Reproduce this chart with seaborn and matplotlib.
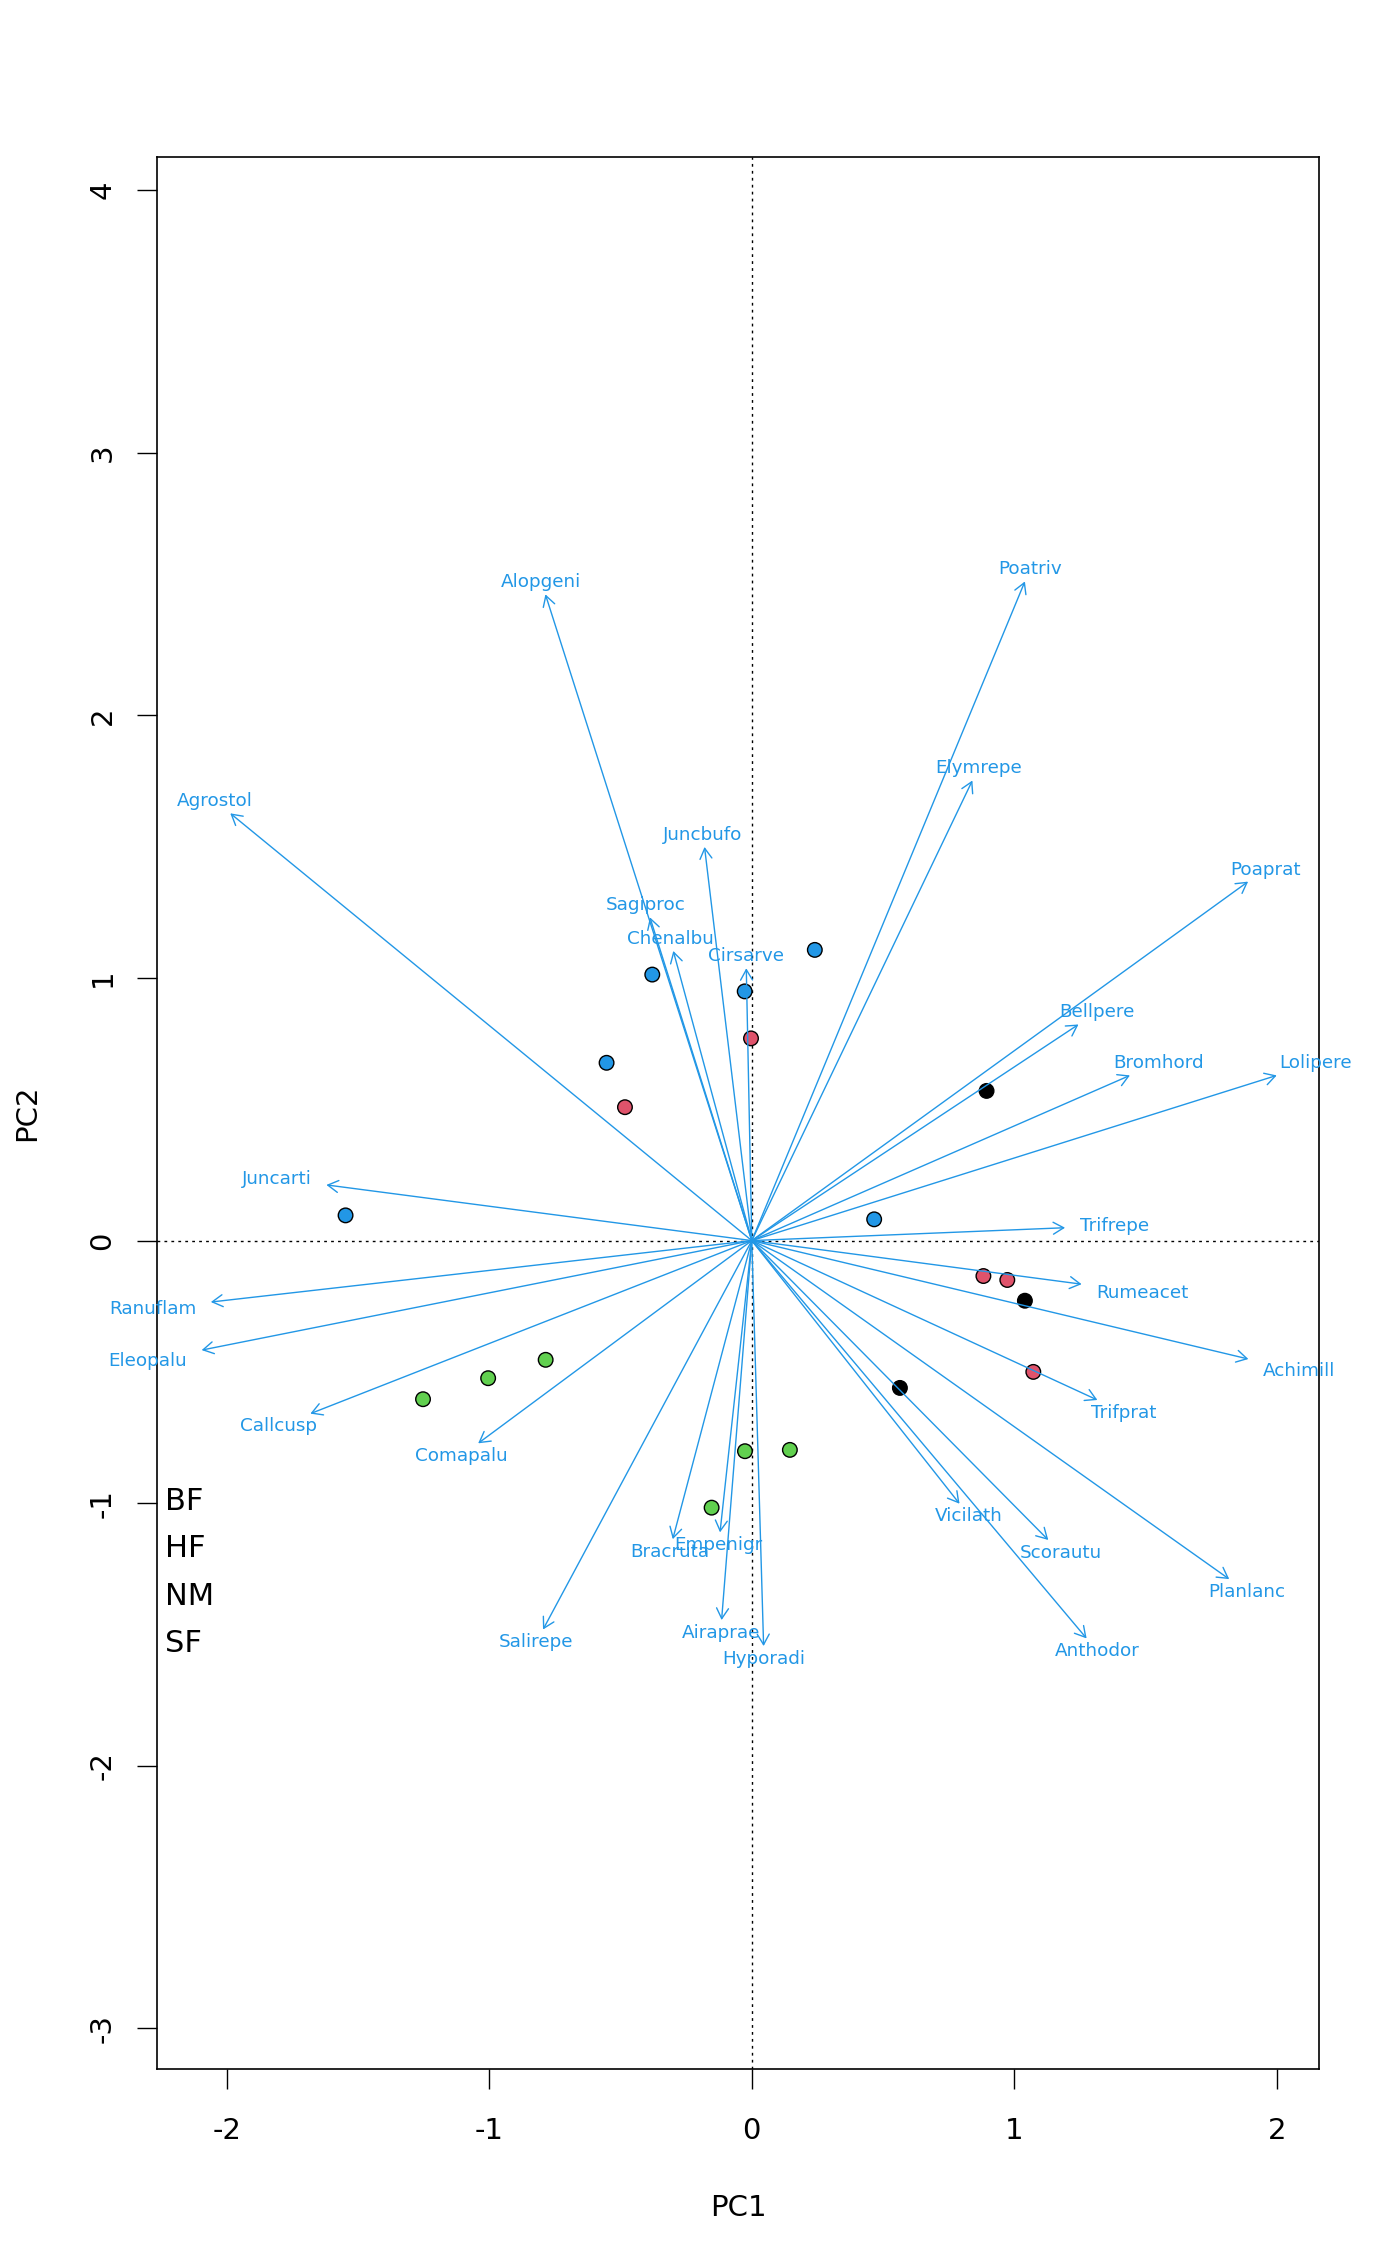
import numpy as np
import pandas as pd
import seaborn as sns
import matplotlib.pyplot as plt
from matplotlib.font_manager import FontProperties
from matplotlib.textpath import TextToPath

# site scores on PC1 / PC2 and the management class of each site
site_pc1 = [-0.379, -0.027, 0.240, -0.553, -1.547, 0.466,
            -0.003, -0.483, 0.882, 0.973, 1.072,
            0.894, 1.040, 0.564,
            -1.252, -1.004, -0.785, -0.026, 0.145, -0.153]
site_pc2 = [1.013, 0.949, 1.107, 0.677, 0.096, 0.081,
            0.770, 0.508, -0.135, -0.150, -0.500,
            0.570, -0.229, -0.561,
            -0.604, -0.524, -0.454, -0.802, -0.797, -1.017]
site_mgmt = ["SF", "SF", "SF", "SF", "SF", "SF",
             "HF", "HF", "HF", "HF", "HF",
             "BF", "BF", "BF",
             "NM", "NM", "NM", "NM", "NM", "NM"]

# species arrows (loadings)
species = ["Achimill", "Agrostol", "Airaprae", "Alopgeni", "Anthodor", "Bellpere",
           "Bromhord", "Chenalbu", "Cirsarve", "Comapalu", "Eleopalu", "Elymrepe",
           "Empenigr", "Hyporadi", "Juncarti", "Juncbufo", "Lolipere", "Planlanc",
           "Poaprat", "Poatriv", "Ranuflam", "Rumeacet", "Sagiproc", "Salirepe",
           "Scorautu", "Trifprat", "Trifrepe", "Vicilath", "Bracruta", "Callcusp"]
spec_pc1 = [1.891, -1.986, -0.115, -0.786, 1.275, 1.244,
            1.440, -0.299, -0.021, -1.042, -2.095, 0.840,
            -0.121, 0.045, -1.620, -0.180, 1.999, 1.818,
            1.890, 1.040, -2.060, 1.256, -0.388, -0.795,
            1.129, 1.316, 1.193, 0.791, -0.301, -1.681]
spec_pc2 = [-0.451, 1.627, -1.445, 2.461, -1.515, 0.823,
            0.629, 1.103, 1.037, -0.772, -0.417, 1.752,
            -1.111, -1.544, 0.212, 1.499, 0.629, -1.289,
            1.367, 2.510, -0.234, -0.166, 1.231, -1.481,
            -1.140, -0.607, 0.049, -1.002, -1.137, -0.659]

mgmt_levels = ["BF", "HF", "NM", "SF"]
mgmt_colors = ["#000000", "#DF536B", "#61D04F", "#2297E6"]
arrow_col = "#2297E6"

sites = pd.DataFrame({"PC1": site_pc1, "PC2": site_pc2, "Management": site_mgmt})

sns.set_theme(style="white")
plt.rcParams['font.family'] = ['DejaVu Sans']
plt.rcParams['axes.unicode_minus'] = False

fig = plt.figure(figsize=(14, 22.66), dpi=100)
ax = fig.add_axes([157.3 / 1400, 1 - 2069 / 2266, (1319.3 - 157.3) / 1400, (2069 - 157.3) / 2266])

ax.axhline(0, color="black", lw=1.0, ls=(0, (2, 3)), zorder=1)
ax.axvline(0, color="black", lw=1.0, ls=(0, (2, 3)), zorder=1)

sns.scatterplot(data=sites, x="PC1", y="PC2", hue="Management", hue_order=mgmt_levels,
                palette=dict(zip(mgmt_levels, mgmt_colors)), s=110,
                edgecolor="black", linewidth=1.0, legend=False, ax=ax, zorder=3)

# arrows + labels, labels pushed past the arrow head like vegan does
lab_fs = 13.2
prop = FontProperties(family="DejaVu Sans", size=lab_fs)
ttp = TextToPath()
cap = 0.729 * lab_fs
for name, x, y in zip(species, spec_pc1, spec_pc2):
    ax.annotate("", xy=(x, y), xytext=(0, 0),
                arrowprops=dict(arrowstyle="->,head_length=0.75,head_width=0.43",
                                color=arrow_col, lw=1.0, shrinkA=0, shrinkB=0,
                                mutation_scale=10),
                zorder=4)
    w = ttp.get_text_width_height_descent(name, prop, ismath=False)[0]
    offx = np.sign(x) * (w / 2 + 10.5)
    offy = np.sign(y) * 8.9
    b = y / x
    move = offy / b
    if abs(move) <= abs(offx):
        dx, dy = move, offy
    else:
        dx, dy = offx, b * offx
    ax.annotate(name, xy=(x, y), xytext=(dx, dy - cap / 2 + 1.0), textcoords="offset points",
                ha="center", va="baseline", fontsize=lab_fs, color=arrow_col, zorder=5)

# legend text only (no symbols)
for i, lev in enumerate(mgmt_levels):
    ax.text(0.0066, 0.2924 - i * 0.02478, lev, transform=ax.transAxes,
            ha="left", va="baseline", fontsize=22, color="black")

ax.set_xlim(-2.2639, 2.1611)
ax.set_ylim(-3.1546, 4.1252)
ax.set_xticks([-2, -1, 0, 1, 2])
ax.set_yticks([-3, -2, -1, 0, 1, 2, 3, 4])
ax.tick_params(axis="both", which="major", length=14.4, width=1.0, color="black",
               labelsize=21, labelcolor="black", bottom=True, left=True)
ax.tick_params(axis="x", pad=20.4)
ax.tick_params(axis="y", pad=15)
for lab in ax.get_yticklabels():
    lab.set_rotation(90)
    lab.set_va("center")

for sp in ax.spines.values():
    sp.set_color("black")
    sp.set_linewidth(1.2)

ax.set_xlabel("PC1", fontsize=21, color="black")
ax.set_ylabel("PC2", fontsize=21, color="black")
ax.xaxis.label.set_va("baseline")
ax.xaxis.set_label_coords(0.5, -0.0767)
ax.yaxis.label.set_va("baseline")
ax.yaxis.set_label_coords(-0.1053, 0.5)

fig.savefig("out.png", dpi=100)
